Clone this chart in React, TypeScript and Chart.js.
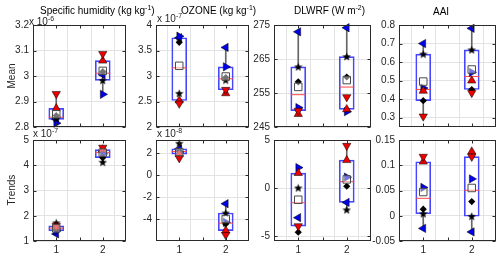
import React, { useEffect, useRef } from 'react';
import { Chart, registerables } from 'chart.js';

Chart.register(...registerables);

const W = 500;
const H = 257;

// ---------- shared x axis ----------
const categories = [1, 2];
const xTickValues = [1, 1.5, 2];
const xTickLabels = ['1', '', '2'];
const xRange = [0.5, 2.5];

// ---------- Specific humidity, Mean (x 10^-6) ----------
const shMeanBlueLeft = [2.830, 3.005];
const shMeanBlueRight = [2.815, 2.928];
const shMeanRedUp = [2.873, 3.060];
const shMeanRedDown = [2.930, 3.087];
const shMeanStar = [2.832, 2.983];
const shMeanDiamond = [2.845, 3.017];
const shMeanSquare = [2.850, 3.020];
const shMeanRange = [2.8, 3.2];
const shMeanTicks = [2.8, 2.9, 3, 3.1, 3.2];

// ---------- OZONE, Mean (x 10^-7) ----------
const ozMeanBlueLeft = [3.75, 3.56];
const ozMeanBlueRight = [3.78, 3.18];
const ozMeanRedUp = [2.52, 2.66];
const ozMeanRedDown = [2.46, 2.73];
const ozMeanStar = [2.66, 2.92];
const ozMeanDiamond = [3.66, 2.97];
const ozMeanSquare = [3.20, 2.99];
const ozMeanRange = [2, 4];
const ozMeanTicks = [2, 2.5, 3, 3.5, 4];

// ---------- DLWRF, Mean ----------
const dlMeanBlueLeft = [273.0, 274.2];
const dlMeanBlueRight = [250.7, 249.5];
const dlMeanRedUp = [248.8, 250.2];
const dlMeanRedDown = [249.8, 253.8];
const dlMeanStar = [262.7, 265.7];
const dlMeanDiamond = [258.3, 259.7];
const dlMeanSquare = [256.8, 258.8];
const dlMeanRange = [245, 275];
const dlMeanTicks = [245, 255, 265, 275];

// ---------- AAI, Mean ----------
const aaiMeanBlueLeft = [0.700, 0.782];
const aaiMeanBlueRight = [0.460, 0.545];
const aaiMeanRedUp = [0.445, 0.500];
const aaiMeanRedDown = [0.307, 0.434];
const aaiMeanStar = [0.643, 0.666];
const aaiMeanDiamond = [0.392, 0.452];
const aaiMeanSquare = [0.495, 0.560];
const aaiMeanRange = [0.25, 0.8];
const aaiMeanTicks = [0.3, 0.4, 0.5, 0.6, 0.7, 0.8];

// ---------- Specific humidity, Trends (x 10^-7) ----------
const shTrendBlueLeft = [1.28, 4.55];
const shTrendBlueRight = [1.40, 4.45];
const shTrendRedUp = [1.56, 4.62];
const shTrendRedDown = [1.60, 4.70];
const shTrendStar = [1.72, 4.12];
const shTrendDiamond = [1.46, 4.30];
const shTrendSquare = [1.50, 4.50];
const shTrendRange = [1, 5];
const shTrendTicks = [1, 2, 3, 4, 5];

// ---------- OZONE, Trends (x 10^-8) ----------
const ozTrendBlueLeft = [2.40, -2.60];
const ozTrendBlueRight = [2.10, -4.30];
const ozTrendRedUp = [1.92, -5.05];
const ozTrendRedDown = [1.55, -5.45];
const ozTrendStar = [2.90, -3.45];
const ozTrendDiamond = [2.20, -4.45];
const ozTrendSquare = [2.10, -4.00];
const ozTrendRange = [-6, 3.2];
const ozTrendTicks = [-4, -2, 0, 2];

// ---------- DLWRF, Trends ----------
const dlTrendBlueLeft = [-3.07, -1.49];
const dlTrendBlueRight = [2.13, 1.14];
const dlTrendRedUp = [1.56, 2.90];
const dlTrendRedDown = [-3.95, 4.40];
const dlTrendStar = [0.02, -2.26];
const dlTrendDiamond = [-4.58, 0.19];
const dlTrendSquare = [-1.21, 0.90];
const dlTrendRange = [-5.5, 5];
const dlTrendTicks = [-5, 0, 5];

// ---------- AAI, Trends ----------
const aaiTrendBlueLeft = [-0.025, -0.032];
const aaiTrendBlueRight = [0.056, 0.073];
const aaiTrendRedUp = [0.107, 0.127];
const aaiTrendRedDown = [0.117, 0.117];
const aaiTrendStar = [0.004, -0.001];
const aaiTrendDiamond = [0.013, 0.028];
const aaiTrendSquare = [0.047, 0.055];
const aaiTrendRange = [-0.05, 0.15];
const aaiTrendTicks = [-0.05, 0, 0.05, 0.1, 0.15];

// ---------- layout (plot-area pixel boxes) ----------
const colLeft = [33, 156, 274, 399];
const colRight = [126, 249, 371, 496];
const rowTop = [25, 140];
const rowBottom = [127, 241];

type Series = {
  blueLeft: number[]; blueRight: number[]; redUp: number[]; redDown: number[];
  star: number[]; diamond: number[]; square: number[];
};

const panels = [
  { col: 0, row: 0, range: shMeanRange, ticks: shMeanTicks, s: { blueLeft: shMeanBlueLeft, blueRight: shMeanBlueRight, redUp: shMeanRedUp, redDown: shMeanRedDown, star: shMeanStar, diamond: shMeanDiamond, square: shMeanSquare } },
  { col: 1, row: 0, range: ozMeanRange, ticks: ozMeanTicks, s: { blueLeft: ozMeanBlueLeft, blueRight: ozMeanBlueRight, redUp: ozMeanRedUp, redDown: ozMeanRedDown, star: ozMeanStar, diamond: ozMeanDiamond, square: ozMeanSquare } },
  { col: 2, row: 0, range: dlMeanRange, ticks: dlMeanTicks, s: { blueLeft: dlMeanBlueLeft, blueRight: dlMeanBlueRight, redUp: dlMeanRedUp, redDown: dlMeanRedDown, star: dlMeanStar, diamond: dlMeanDiamond, square: dlMeanSquare } },
  { col: 3, row: 0, range: aaiMeanRange, ticks: aaiMeanTicks, s: { blueLeft: aaiMeanBlueLeft, blueRight: aaiMeanBlueRight, redUp: aaiMeanRedUp, redDown: aaiMeanRedDown, star: aaiMeanStar, diamond: aaiMeanDiamond, square: aaiMeanSquare } },
  { col: 0, row: 1, range: shTrendRange, ticks: shTrendTicks, s: { blueLeft: shTrendBlueLeft, blueRight: shTrendBlueRight, redUp: shTrendRedUp, redDown: shTrendRedDown, star: shTrendStar, diamond: shTrendDiamond, square: shTrendSquare } },
  { col: 1, row: 1, range: ozTrendRange, ticks: ozTrendTicks, s: { blueLeft: ozTrendBlueLeft, blueRight: ozTrendBlueRight, redUp: ozTrendRedUp, redDown: ozTrendRedDown, star: ozTrendStar, diamond: ozTrendDiamond, square: ozTrendSquare } },
  { col: 2, row: 1, range: dlTrendRange, ticks: dlTrendTicks, s: { blueLeft: dlTrendBlueLeft, blueRight: dlTrendBlueRight, redUp: dlTrendRedUp, redDown: dlTrendRedDown, star: dlTrendStar, diamond: dlTrendDiamond, square: dlTrendSquare } },
  { col: 3, row: 1, range: aaiTrendRange, ticks: aaiTrendTicks, s: { blueLeft: aaiTrendBlueLeft, blueRight: aaiTrendBlueRight, redUp: aaiTrendRedUp, redDown: aaiTrendRedDown, star: aaiTrendStar, diamond: aaiTrendDiamond, square: aaiTrendSquare } },
];

const FONT = "'Liberation Sans', Arial, sans-serif";
const TICK_COLOR = '#262626';
const GRID_COLOR = '#e3e3e3';
const FRAME_COLOR = '#2b2b2b';
const BOX_BLUE = 'rgb(70,70,255)';
const MED_RED = 'rgb(255,70,70)';
const WHISKER = '#666666';
const BLUE = 'rgb(0,0,235)';
const RED = 'rgb(235,0,0)';
const EDGE = 'rgba(0,0,0,0.75)';

function prctile(sorted: number[], p: number) {
  const n = sorted.length;
  const pos = (n * p) / 100 + 0.5;
  if (pos <= 1) return sorted[0];
  if (pos >= n) return sorted[n - 1];
  const lo = Math.floor(pos);
  const f = pos - lo;
  return sorted[lo - 1] + f * (sorted[lo] - sorted[lo - 1]);
}

function boxStats(s: Series, i: number) {
  const v = [s.blueLeft[i], s.blueRight[i], s.redUp[i], s.redDown[i], s.star[i], s.diamond[i]].sort((a, b) => a - b);
  return { min: v[0], q1: prctile(v, 25), med: prctile(v, 50), q3: prctile(v, 75), max: v[v.length - 1] };
}

function makeStar(size: number, color: string) {
  const c = document.createElement('canvas');
  c.width = size;
  c.height = size;
  const ctx = c.getContext('2d')!;
  const cx = size / 2, cy = size / 2 + 0.4, R = size / 2, r = R * 0.42;
  ctx.beginPath();
  for (let k = 0; k < 10; k++) {
    const rad = k % 2 === 0 ? R : r;
    const a = -Math.PI / 2 + (k * Math.PI) / 5;
    const px = cx + rad * Math.cos(a), py = cy + rad * Math.sin(a);
    if (k === 0) ctx.moveTo(px, py); else ctx.lineTo(px, py);
  }
  ctx.closePath();
  ctx.fillStyle = color;
  ctx.fill();
  return c;
}

const framePlugin = {
  id: 'matlabFrame',
  afterDraw(chart: any) {
    const { ctx, chartArea: a } = chart;
    const L = Math.round(a.left) + 0.5, R = Math.round(a.right) - 0.5;
    const T = Math.round(a.top) + 0.5, B = Math.round(a.bottom) - 0.5;
    ctx.save();
    ctx.strokeStyle = FRAME_COLOR;
    ctx.lineWidth = 1;
    const tl = 3;
    ctx.beginPath();
    chart.scales.y.ticks.forEach((t: any) => {
      const py = Math.round(chart.scales.y.getPixelForValue(t.value)) + 0.5;
      ctx.moveTo(L, py); ctx.lineTo(L + tl, py);
      ctx.moveTo(R, py); ctx.lineTo(R - tl, py);
    });
    chart.scales.x.ticks.forEach((t: any) => {
      const px = Math.round(chart.scales.x.getPixelForValue(t.value)) + 0.5;
      ctx.moveTo(px, B); ctx.lineTo(px, B - tl);
      ctx.moveTo(px, T); ctx.lineTo(px, T + tl);
    });
    ctx.stroke();
    ctx.strokeRect(L, T, R - L, B - T);
    ctx.restore();
  },
};

function fmt(v: number) {
  return String(Math.round(v * 1e6) / 1e6);
}

function buildConfig(p: (typeof panels)[number], star: HTMLCanvasElement) {
  const s = p.s as Series;
  const stats = categories.map((_, i) => boxStats(s, i));
  const yW = 30;
  const xH = p.row === 1 ? 16 : 0;
  const left = colLeft[p.col], right = colRight[p.col];
  const top = rowTop[p.row], bottom = rowBottom[p.row];

  const pts = (arr: number[]) => categories.map((c, i) => ({ x: c, y: arr[i] }));
  const marker = (arr: number[], style: any, radius: number, rot: number, bg: string, border: string, bw: number) => ({
    type: 'scatter',
    data: pts(arr),
    pointStyle: style,
    pointRadius: radius,
    pointRotation: rot,
    pointBackgroundColor: bg,
    pointBorderColor: border,
    pointBorderWidth: bw,
    clip: false,
  });

  const drawList: any[] = [
    { type: 'bar', data: categories.map((c, i) => ({ x: c, y: [stats[i].q3, stats[i].max] })), barThickness: 1, backgroundColor: WHISKER, borderWidth: 0, grouped: false },
    { type: 'bar', data: categories.map((c, i) => ({ x: c, y: [stats[i].min, stats[i].q1] })), barThickness: 1, backgroundColor: WHISKER, borderWidth: 0, grouped: false },
    { type: 'bar', data: categories.map((c, i) => ({ x: c, y: [stats[i].q1, stats[i].q3] })), barThickness: 15, backgroundColor: 'rgba(0,0,0,0)', borderColor: BOX_BLUE, borderWidth: 1, borderSkipped: false, grouped: false },
    marker(stats.map((st) => st.med), 'line', 7.5, 0, MED_RED, MED_RED, 1),
    marker(s.blueLeft, 'triangle', 4.8, 270, BLUE, EDGE, 0.7),
    marker(s.blueRight, 'triangle', 4.8, 90, BLUE, EDGE, 0.7),
    marker(s.star, star, 5, 0, '#000', '#000', 0),
    marker(s.diamond, 'rectRot', 3.6, 0, '#000', '#000', 0),
    marker(s.redUp, 'triangle', 4.8, 0, RED, EDGE, 0.7),
    marker(s.redDown, 'triangle', 4.8, 180, RED, EDGE, 0.7),
    marker(s.square, 'rect', 5.3, 0, 'rgba(255,255,255,0.45)', '#4a4a4a', 1),
  ];
  const datasets = drawList.map((d, i) => ({ ...d, order: drawList.length - i }));

  const tickFont = { family: FONT, size: 10 };
  return {
    type: 'bar',
    data: { datasets },
    options: {
      responsive: false,
      animation: false,
      events: [],
      layout: { autoPadding: false, padding: { left: left - yW, right: W - right, top, bottom: H - bottom - xH } },
      plugins: { legend: { display: false }, tooltip: { enabled: false }, title: { display: false } },
      scales: {
        x: {
          type: 'linear', min: xRange[0], max: xRange[1], offset: false,
          afterBuildTicks: (sc: any) => { sc.ticks = xTickValues.map((v) => ({ value: v })); },
          afterFit: (sc: any) => { sc.height = xH; },
          grid: { color: GRID_COLOR, drawTicks: false },
          border: { display: false },
          ticks: { display: p.row === 1, padding: 3, font: tickFont, color: TICK_COLOR, autoSkip: false, maxRotation: 0, callback: (_v: any, i: number) => xTickLabels[i] ?? '' },
        },
        y: {
          type: 'linear', min: p.range[0], max: p.range[1],
          afterBuildTicks: (sc: any) => { sc.ticks = p.ticks.map((v) => ({ value: v })); },
          afterFit: (sc: any) => { sc.width = yW; },
          grid: { color: GRID_COLOR, drawTicks: false },
          border: { display: false },
          ticks: { padding: 4, font: tickFont, color: TICK_COLOR, autoSkip: false, callback: (v: any) => fmt(Number(v)) },
        },
      },
    },
    plugins: [framePlugin],
  };
}

function Panel({ p }: { p: (typeof panels)[number] }) {
  const ref = useRef<HTMLCanvasElement | null>(null);
  useEffect(() => {
    if (!ref.current) return;
    const star = makeStar(9, '#000');
    const chart = new Chart(ref.current, buildConfig(p, star) as any);
    return () => chart.destroy();
  }, [p]);
  return <canvas ref={ref} width={W} height={H} style={{ position: 'absolute', left: 0, top: 0, width: W, height: H }} />;
}

const textBase: React.CSSProperties = {
  position: 'absolute', fontFamily: FONT, fontSize: 10, lineHeight: '12px', whiteSpace: 'nowrap', color: '#000',
};
const supStyle: React.CSSProperties = { fontSize: 7, position: 'relative', top: -4 };

function Txt({ x, y, children, color }: { x: number; y: number; children: React.ReactNode; color?: string }) {
  return <div style={{ ...textBase, left: x, top: y - 6, color: color ?? '#000' }}>{children}</div>;
}

function Exp({ x, y, e }: { x: number; y: number; e: string }) {
  return (
    <Txt x={x} y={y} color={TICK_COLOR}>
      x 10<span style={supStyle}>{e}</span>
    </Txt>
  );
}

export default function App() {
  return (
    <div style={{ position: 'fixed', left: 0, top: 0, width: W, height: H, background: '#fff', overflow: 'hidden' }}>
      {panels.map((p, i) => <Panel key={i} p={p} />)}
      <Txt x={40} y={11}>Specific humidity (kg kg<span style={supStyle}>-1</span>)</Txt>
      <Txt x={181} y={11}>OZONE (kg kg<span style={supStyle}>-1</span>)</Txt>
      <Txt x={294} y={11}>DLWRF (W m<span style={supStyle}>-2</span>)</Txt>
      <Txt x={433} y={12}>AAI</Txt>
      <Exp x={29} y={22} e="-6" />
      <Exp x={157} y={19} e="-7" />
      <Exp x={33} y={134} e="-7" />
      <Exp x={157} y={134} e="-8" />
      <div style={{ ...textBase, color: TICK_COLOR, left: 12, top: 76, transform: 'translate(-50%, -50%) rotate(-90deg)' }}>Mean</div>
      <div style={{ ...textBase, color: TICK_COLOR, left: 12, top: 190, transform: 'translate(-50%, -50%) rotate(-90deg)' }}>Trends</div>
    </div>
  );
}
